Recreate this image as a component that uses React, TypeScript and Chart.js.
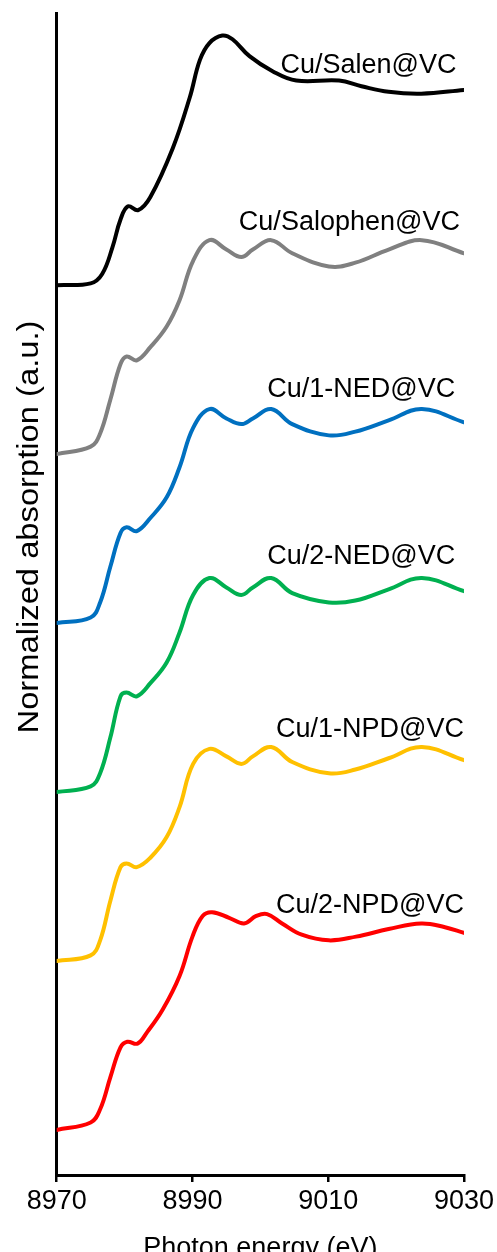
import React, { useEffect, useRef } from "react";
import { Chart, registerables } from "chart.js";

Chart.register(...registerables);

// ---- Data ----
const SERIES_NAMES = [
  "Cu/Salen@VC",
  "Cu/Salophen@VC",
  "Cu/1-NED@VC",
  "Cu/2-NED@VC",
  "Cu/1-NPD@VC",
  "Cu/2-NPD@VC",
];
const COLORS = ["#000000", "#808080", "#0070C0", "#00B050", "#FFC000", "#FF0000"];
// vertical offset applied to each normalized spectrum
const OFFSETS = [4.74, 3.84, 2.94, 2.04, 1.14, 0.24];

const E_SALEN = [8970, 8975, 8976.7, 8978.2, 8979.4, 8980.5, 8982.0, 8983.8, 8987.1, 8989.6, 8991.1, 8992.5, 8994.4, 8995.9, 8998.4, 9001.8, 9005.3, 9011.6, 9014.9, 9018.9, 9023.7, 9030];
const MU_SALEN = [0.0, 0.01, 0.06, 0.2, 0.35, 0.42, 0.4, 0.47, 0.73, 1.0, 1.2, 1.29, 1.33, 1.31, 1.22, 1.14, 1.09, 1.09, 1.06, 1.03, 1.02, 1.04];

const E_COMMON = [8970, 8975, 8976.4, 8977.9, 8979.4, 8980.3, 8981.8, 8983.8, 8986.2, 8988.1, 8990.1, 8992.5, 8995.0, 8997.2, 8998.9, 9001.6, 9004.7, 9010.1, 9014.0, 9018.9, 9023.8, 9030];
const MU_SALOPHEN = [0.0, 0.04, 0.11, 0.29, 0.48, 0.52, 0.5, 0.57, 0.68, 0.82, 1.03, 1.14, 1.09, 1.05, 1.09, 1.14, 1.07, 1.0, 1.02, 1.09, 1.14, 1.07];
const MU_1NED = [0.0, 0.03, 0.11, 0.3, 0.48, 0.51, 0.49, 0.56, 0.67, 0.83, 1.04, 1.14, 1.09, 1.06, 1.09, 1.14, 1.06, 1.0, 1.02, 1.08, 1.14, 1.07];
const MU_2NED = [0.0, 0.03, 0.1, 0.29, 0.51, 0.53, 0.51, 0.58, 0.69, 0.85, 1.05, 1.14, 1.09, 1.05, 1.09, 1.14, 1.06, 1.01, 1.02, 1.08, 1.14, 1.07];
const MU_1NPD = [0.0, 0.03, 0.11, 0.32, 0.5, 0.52, 0.5, 0.55, 0.66, 0.82, 1.05, 1.13, 1.09, 1.05, 1.09, 1.14, 1.06, 1.0, 1.02, 1.08, 1.14, 1.07];

const E_2NPD = [8970, 8975, 8976.4, 8977.9, 8979.4, 8980.4, 8981.9, 8983.3, 8985.6, 8988.1, 8990.0, 8991.5, 8992.9, 8995.4, 8997.6, 8999.4, 9001.0, 9003.2, 9006.1, 9010.1, 9014.1, 9018.9, 9023.7, 9027.2, 9030];
const MU_2NPD = [0.0, 0.04, 0.11, 0.28, 0.44, 0.47, 0.46, 0.52, 0.64, 0.82, 1.03, 1.14, 1.16, 1.13, 1.1, 1.14, 1.15, 1.1, 1.04, 1.01, 1.03, 1.07, 1.1, 1.08, 1.05];

const ENERGIES = [E_SALEN, E_COMMON, E_COMMON, E_COMMON, E_COMMON, E_2NPD];
const SPECTRA = [MU_SALEN, MU_SALOPHEN, MU_1NED, MU_2NED, MU_1NPD, MU_2NPD];

const X_TICKS = [8970, 8990, 9010, 9030];
const X_TITLE = "Photon energy (eV)";
const Y_TITLE = "Normalized absorption (a.u.)";

// label anchors (right end of text, baseline) in data units
const LABEL_X_END = [9028.9, 9029.4, 9028.7, 9028.7, 9030, 9030];
const LABEL_Y = [5.868, 5.032, 4.143, 3.253, 2.332, 1.395];

const FONT = '"Liberation Sans", Arial, sans-serif';

const overlayPlugin = {
  id: "overlayText",
  afterDraw(chart: any) {
    const ctx = chart.ctx;
    const xs = chart.scales.x;
    const ys = chart.scales.y;
    ctx.save();
    ctx.fillStyle = "#000";
    ctx.font = `27px ${FONT}`;
    ctx.textAlign = "right";
    ctx.textBaseline = "alphabetic";
    SERIES_NAMES.forEach((name, i) => {
      ctx.fillText(name, xs.getPixelForValue(LABEL_X_END[i]), ys.getPixelForValue(LABEL_Y[i]));
    });
    ctx.restore();

    ctx.save();
    ctx.fillStyle = "#000";
    ctx.font = `29px ${FONT}`;
    const w = ctx.measureText(Y_TITLE).width;
    ctx.translate(38, 527);
    ctx.rotate(-Math.PI / 2);
    ctx.scale(413 / w, 1);
    ctx.textAlign = "center";
    ctx.textBaseline = "alphabetic";
    ctx.fillText(Y_TITLE, 0, 0);
    ctx.restore();
  },
};

export default function App() {
  const canvasRef = useRef<HTMLCanvasElement | null>(null);

  useEffect(() => {
    document.body.style.margin = "0";
    document.body.style.overflow = "hidden";
    const canvas = canvasRef.current;
    if (!canvas) return;

    const datasets = SERIES_NAMES.map((name, i) => ({
      label: name,
      data: ENERGIES[i].map((e, k) => ({ x: e, y: SPECTRA[i][k] + OFFSETS[i] })),
      borderColor: COLORS[i],
      backgroundColor: COLORS[i],
      borderWidth: 4,
      pointRadius: 0,
      pointHoverRadius: 0,
      fill: false,
      tension: 0.4,
      borderCapStyle: "round" as const,
      borderJoinStyle: "round" as const,
    }));

    const chart = new Chart(canvas, {
      type: "line",
      data: { datasets },
      options: {
        animation: false,
        responsive: false,
        events: [],
        layout: { padding: { top: 13, right: 31.3, left: 0, bottom: 0 } },
        plugins: {
          legend: { display: false },
          tooltip: { enabled: false },
          title: { display: false },
        },
        scales: {
          x: {
            type: "linear",
            min: 8970,
            max: 9030,
            afterBuildTicks: (s: any) => {
              s.ticks = X_TICKS.map((v) => ({ value: v }));
            },
            afterFit: (s: any) => {
              s.height = 105;
            },
            ticks: {
              color: "#000",
              font: { family: FONT, size: 27 },
              padding: 3,
              maxRotation: 0,
              autoSkip: false,
              callback: (v: any) => String(v),
            },
            grid: {
              display: true,
              drawOnChartArea: false,
              drawTicks: true,
              tickLength: 7,
              color: "#000",
              lineWidth: 2.5,
            },
            border: { display: true, color: "#000", width: 3 },
            title: {
              display: true,
              text: X_TITLE,
              color: "#000",
              font: { family: FONT, size: 27 },
              padding: { top: 0, bottom: 15 },
            },
          },
          y: {
            type: "linear",
            min: 0,
            max: 6.19,
            afterFit: (s: any) => {
              s.width = 56.7;
            },
            ticks: { display: false },
            grid: { display: false, drawTicks: false },
            border: { display: true, color: "#000", width: 3 },
          },
        },
      },
      plugins: [overlayPlugin],
    });

    return () => chart.destroy();
  }, []);

  return (
    <div style={{ width: 497, height: 1252, overflow: "hidden", position: "relative" }}>
      <canvas ref={canvasRef} width={497} height={1280} style={{ display: "block" }} />
    </div>
  );
}
